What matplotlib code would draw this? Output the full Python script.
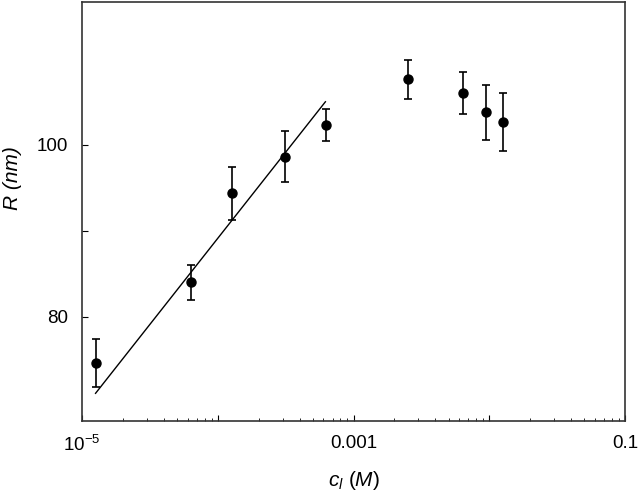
import numpy as np
import matplotlib.pyplot as plt
from matplotlib.ticker import LogLocator, FixedLocator, FixedFormatter, NullFormatter

plt.rcParams['font.family'] = ['Liberation Sans', 'DejaVu Sans']
plt.rcParams['mathtext.fontset'] = 'custom'
plt.rcParams['mathtext.rm'] = 'Liberation Sans'
plt.rcParams['mathtext.it'] = 'Liberation Sans:italic'
plt.rcParams['mathtext.default'] = 'regular'

# measured points
conc = [1.27e-5, 6.3e-5, 1.27e-4, 3.13e-4, 6.26e-4, 2.5e-3, 6.4e-3, 9.5e-3, 1.26e-2]
radius = [74.6, 84.0, 94.35, 98.6, 102.3, 107.6, 106.0, 103.8, 102.65]
err = [2.8, 2.0, 3.1, 2.95, 1.9, 2.3, 2.45, 3.2, 3.35]

# fitted line endpoints
fit_c = [1.26e-5, 6.2e-4]
fit_r = [71.1, 105.0]

fig = plt.figure(figsize=(6.4, 5.04), dpi=100)
ax = fig.add_axes([0.128, 0.165, 0.849, 0.831])

ax.plot(fit_c, fit_r, color='black', lw=1.0)
ax.errorbar(conc, radius, yerr=err, fmt='o', color='black', ms=6.5,
            elinewidth=1.2, capsize=3, capthick=1.2)

ax.set_xscale('log')
ax.set_xlim(1e-5, 0.1)
ax.set_ylim(67.9, 116.6)

ax.xaxis.set_major_locator(FixedLocator([1e-5, 1e-4, 1e-3, 1e-2, 1e-1]))
ax.xaxis.set_major_formatter(FixedFormatter(['$10^{-5}$', '', '0.001', '', '0.1']))
ax.xaxis.set_minor_locator(LogLocator(base=10, subs=np.arange(2, 10)))
ax.xaxis.set_minor_formatter(NullFormatter())

ax.set_yticks([80, 90, 100])
ax.set_yticklabels(['80', '', '100'])

ax.tick_params(axis='both', which='major', direction='in', length=4, labelsize=13.5, pad=10)
ax.tick_params(axis='both', which='minor', direction='in', length=2)
for s in ax.spines.values():
    s.set_linewidth(1.2)
    s.set_color('#333333')

ax.set_xlabel(r'$\mathit{c}_{\mathit{l}}\ \mathit{(M)}$', fontsize=15)
ax.xaxis.set_label_coords(0.5, -0.115)
ax.set_ylabel('R (nm)', fontsize=15, fontstyle='italic')
ax.yaxis.set_label_coords(-0.11, 0.58)

fig.savefig('out.png', dpi=100)
